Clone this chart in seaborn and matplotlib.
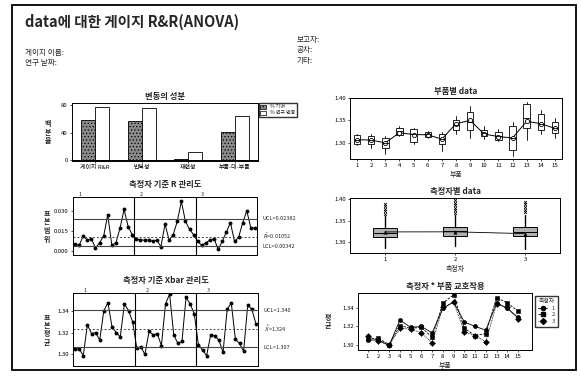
import numpy as np
import pandas as pd
import matplotlib
matplotlib.use("Agg")
import matplotlib.pyplot as plt
import matplotlib.transforms as mtransforms
import seaborn as sns
from matplotlib.patches import Patch, Rectangle
from matplotlib.lines import Line2D

# DATA

# components of variation
components = ['게이지 R&R', '반복성', '재현성', '부품-대-부품']
pct_contrib = [59, 57, 1.5, 41]
pct_study = [77, 76, 12, 64]

parts = list(range(1, 16))
operators = ['1', '2', '3']

# operator x part means (Xbar chart and interaction plot)
xbar_op1 = [1.305, 1.305, 1.299, 1.327, 1.319, 1.320, 1.313, 1.340, 1.347, 1.325, 1.320, 1.316, 1.346, 1.340, 1.330]
xbar_op2 = [1.306, 1.307, 1.300, 1.321, 1.318, 1.319, 1.308, 1.346, 1.355, 1.318, 1.310, 1.312, 1.352, 1.346, 1.337]
xbar_op3 = [1.309, 1.304, 1.299, 1.318, 1.317, 1.313, 1.302, 1.341, 1.347, 1.314, 1.310, 1.303, 1.345, 1.341, 1.328]

# operator x part ranges (R chart)
range_op1 = [0.005, 0.004, 0.011, 0.008, 0.009, 0.002, 0.006, 0.011, 0.027, 0.004, 0.006, 0.017, 0.031, 0.018, 0.012]
range_op2 = [0.009, 0.008, 0.008, 0.008, 0.007, 0.008, 0.003, 0.020, 0.008, 0.012, 0.022, 0.037, 0.022, 0.016, 0.012]
range_op3 = [0.007, 0.004, 0.006, 0.008, 0.009, 0.001, 0.007, 0.014, 0.021, 0.007, 0.010, 0.021, 0.030, 0.017, 0.017]

xbar_ucl, xbar_center, xbar_lcl = 1.3402, 1.3235, 1.3068
r_ucl, r_center, r_lcl = 0.02382, 0.01052, 0.00342

# box summaries by part
part_q1 = [1.296, 1.297, 1.288, 1.318, 1.302, 1.312, 1.297, 1.329, 1.329, 1.315, 1.306, 1.284, 1.333, 1.329, 1.322]
part_med = [1.306, 1.306, 1.300, 1.325, 1.320, 1.320, 1.309, 1.339, 1.346, 1.321, 1.315, 1.311, 1.355, 1.342, 1.333]
part_q3 = [1.317, 1.315, 1.311, 1.333, 1.330, 1.324, 1.320, 1.351, 1.369, 1.329, 1.324, 1.338, 1.387, 1.364, 1.346]
part_wlo = [1.294, 1.288, 1.275, 1.315, 1.297, 1.311, 1.280, 1.320, 1.311, 1.308, 1.304, 1.270, 1.306, 1.320, 1.311]
part_whi = [1.320, 1.320, 1.315, 1.338, 1.333, 1.327, 1.324, 1.360, 1.382, 1.338, 1.330, 1.346, 1.391, 1.373, 1.355]

# box summaries by operator
op_q1 = [1.3105, 1.314, 1.313]
op_med = [1.322, 1.326, 1.324]
op_q3 = [1.332, 1.334, 1.334]
op_wlo = [1.2865, 1.290, 1.2825]
op_whi = [1.360, 1.363, 1.362]
op_fliers = [[1.366, 1.372, 1.378, 1.384, 1.390],
             [1.368, 1.374, 1.380, 1.386, 1.392, 1.398],
             [1.370, 1.376, 1.382, 1.388, 1.394]]


# STYLE

sns.set_theme(style="ticks")
plt.rcParams['font.family'] = ['Noto Sans CJK KR', 'DejaVu Sans']
plt.rcParams['axes.unicode_minus'] = False
plt.rcParams['axes.linewidth'] = 0.7
plt.rcParams['axes.edgecolor'] = 'black'
plt.rcParams['xtick.major.size'] = 1.5
plt.rcParams['ytick.major.size'] = 1.5
plt.rcParams['xtick.major.width'] = 0.5
plt.rcParams['ytick.major.width'] = 0.5
plt.rcParams['xtick.major.pad'] = 1.5
plt.rcParams['ytick.major.pad'] = 1.5
plt.rcParams['hatch.linewidth'] = 0.5
plt.rcParams['hatch.color'] = 'black'

TICK = 4.3
TITLE = 6
LABEL = 5

fig = plt.figure(figsize=(5.81, 3.79), dpi=100)
W, H = 581, 379


def px_axes(x0, y0, x1, y1):
    return fig.add_axes([x0 / W, 1 - y1 / H, (x1 - x0) / W, (y1 - y0) / H])


def style_axes(ax):
    for s in ax.spines.values():
        s.set_visible(True)
        s.set_color('black')
        s.set_linewidth(0.7)
    ax.tick_params(labelsize=TICK, colors='black')


def stacked_ylabel(ax, text, x_px):
    # upright characters stacked one above the other, as in the report
    ax.set_ylabel('')
    bbox = ax.get_position()
    fig.text(x_px / W, bbox.y0 + bbox.height / 2, '\n'.join(text), fontsize=LABEL,
             fontweight='bold', ha='center', va='center', linespacing=1.3)


# outer frame and header texts
fig.patches.append(Rectangle((12 / W, 1 - 370 / H), 564 / W, 365 / H, transform=fig.transFigure,
                             fill=False, lw=1.3, ec='black'))
fig.text(25 / W, 1 - 22 / H, 'data에 대한 게이지 R&R(ANOVA)', fontsize=10.5, fontweight='bold', va='center')
fig.text(25 / W, 1 - 53 / H, '게이지 이름:', fontsize=5.5, va='center')
fig.text(25 / W, 1 - 63 / H, '연구 날짜:', fontsize=5.5, va='center')
fig.text(297 / W, 1 - 40 / H, '보고자:', fontsize=5.5, va='center')
fig.text(297 / W, 1 - 50 / H, '공차:', fontsize=5.5, va='center')
fig.text(297 / W, 1 - 61 / H, '기타:', fontsize=5.5, va='center')


# CHART 1: COMPONENTS OF VARIATION
ax1 = px_axes(72, 103, 258, 161)
df_bar = pd.DataFrame({
    '성분': components * 2,
    '값': pct_contrib + pct_study,
    '구분': ['% 기여'] * 4 + ['% 연구 변동'] * 4,
})
sns.barplot(data=df_bar, x='성분', y='값', hue='구분', ax=ax1, width=0.6,
            palette=['#8a8a8a', 'white'], edgecolor='black', linewidth=0.6, legend=False)
for bar in ax1.containers[0]:
    bar.set_hatch('.....')
ax1.axhline(0, color='black', lw=0.7)
ax1.set_ylim(-1, 83)
ax1.set_yticks([0, 40, 80])
ax1.set_xlabel('')
ax1.set_title('변동의 성분', fontsize=TITLE, fontweight='bold', pad=3)
style_axes(ax1)
stacked_ylabel(ax1, '백분율', 48)
handles = [Patch(facecolor='#8a8a8a', edgecolor='black', hatch='.....', lw=0.5, label='% 기여'),
           Patch(facecolor='white', edgecolor='black', lw=0.5, label='% 연구 변동')]
ax1.legend(handles=handles, loc='upper left', bbox_to_anchor=(1.005, 1.0), fontsize=3.6,
           frameon=True, fancybox=False, edgecolor='black', borderpad=0.3,
           handlelength=1.2, handleheight=0.9, labelspacing=0.2, borderaxespad=0)


# helper for the two control charts
def control_chart(ax, values, ucl, center, lcl, labels, ylim, yticks, label_x, title, ylabel):
    df = pd.DataFrame({'idx': np.arange(len(values)), 'v': values})
    sns.lineplot(data=df, x='idx', y='v', ax=ax, color='black', lw=0.7,
                 marker='o', markersize=2.8, markeredgewidth=0)
    ax.axhline(ucl, color='#444444', lw=0.8)
    ax.axhline(center, color='#444444', lw=0.7, ls=(0, (2, 2)))
    ax.axhline(lcl, color='#444444', lw=0.8)
    for b in [14.5, 29.5]:
        ax.axvline(b, color='black', lw=0.8)
    for k, op in enumerate(operators):
        ax.text(15 * k + label_x, ylim[1], op, fontsize=4, ha='center', va='bottom')
    ax.set_xlim(-0.5, 44.5)
    ax.set_ylim(*ylim)
    ax.set_yticks(yticks)
    ax.set_xticks([])
    ax.set_xlabel('')
    ax.set_title(title, fontsize=TITLE, fontweight='bold', pad=7)
    style_axes(ax)
    stacked_ylabel(ax, ylabel, 47)
    tr = mtransforms.blended_transform_factory(ax.transAxes, ax.transData)
    for txt, yv in zip(labels, [ucl, center, lcl]):
        ax.text(1.03, yv, txt, transform=tr, fontsize=4, va='center', ha='left')


# CHART 2: R CHART
ax2 = px_axes(73, 197, 257, 255)
control_chart(ax2, range_op1 + range_op2 + range_op3, r_ucl, r_center, r_lcl,
              ['UCL=0.02382', r'$\bar{R}$=0.01052', 'LCL=0.00342'],
              (-0.0032, 0.0403), [0.0, 0.015, 0.030], 1.2,
              '측정자 기준 R 관리도', '표본범위')
ax2.yaxis.set_major_formatter(matplotlib.ticker.FormatStrFormatter('%.3f'))

# CHART 3: XBAR CHART
ax3 = px_axes(73, 293, 258, 366)
control_chart(ax3, xbar_op1 + xbar_op2 + xbar_op3, xbar_ucl, xbar_center, xbar_lcl,
              ['UCL=1.340', r'$\bar{\bar{X}}$=1.324', 'LCL=1.307'],
              (1.2895, 1.356), [1.30, 1.32, 1.34], 2.5,
              '측정자 기준 Xbar 관리도', '표본평균')
ax3.yaxis.set_major_formatter(matplotlib.ticker.FormatStrFormatter('%.2f'))


# CHART 4: DATA BY PART
ax4 = px_axes(350, 98, 562, 159)
part_stats = [dict(q1=a, med=b, q3=c, whislo=d, whishi=e, fliers=[])
              for a, b, c, d, e in zip(part_q1, part_med, part_q3, part_wlo, part_whi)]
ax4.bxp(part_stats, positions=parts, widths=0.45, patch_artist=True, showcaps=False,
        boxprops=dict(facecolor='white', edgecolor='black', lw=0.6),
        medianprops=dict(color='black', lw=0.6), whiskerprops=dict(color='black', lw=0.6))
part_means = np.mean([xbar_op1, xbar_op2, xbar_op3], axis=0)
sns.lineplot(x=parts, y=part_means, ax=ax4, color='black', lw=0.7, marker='o', markersize=3,
             markerfacecolor='white', markeredgecolor='black', markeredgewidth=0.6)
ax4.set_xlim(0.5, 15.5)
ax4.set_ylim(1.263, 1.398)
ax4.set_yticks([1.30, 1.35, 1.40])
ax4.yaxis.set_major_formatter(matplotlib.ticker.FormatStrFormatter('%.2f'))
ax4.set_xticks(parts)
ax4.set_xticklabels([str(p) for p in parts])
ax4.set_xlabel('부품', fontsize=LABEL, labelpad=2)
ax4.set_title('부품별 data', fontsize=TITLE, fontweight='bold', pad=3)
style_axes(ax4)


# CHART 5: DATA BY OPERATOR
ax5 = px_axes(350, 198, 560, 253)
op_stats = [dict(q1=a, med=b, q3=c, whislo=d, whishi=e, fliers=f)
            for a, b, c, d, e, f in zip(op_q1, op_med, op_q3, op_wlo, op_whi, op_fliers)]
ax5.bxp(op_stats, positions=[1, 2, 3], widths=0.35, patch_artist=True, showcaps=False,
        boxprops=dict(facecolor='#b0b0b0', edgecolor='black', lw=0.7),
        medianprops=dict(color='black', lw=0.7), whiskerprops=dict(color='black', lw=1.0),
        flierprops=dict(marker='x', markersize=2, markeredgecolor='black', markeredgewidth=0.6))
op_means = [np.mean(xbar_op1), np.mean(xbar_op2), np.mean(xbar_op3)]
sns.lineplot(x=[1, 2, 3], y=op_means, ax=ax5, color='black', lw=0.6, marker='^', markersize=3,
             markeredgewidth=0)
ax5.set_xlim(0.5, 3.5)
ax5.set_ylim(1.274, 1.403)
ax5.set_yticks([1.30, 1.35, 1.40])
ax5.yaxis.set_major_formatter(matplotlib.ticker.FormatStrFormatter('%.2f'))
ax5.set_xticks([1, 2, 3])
ax5.set_xticklabels(operators)
ax5.set_xlabel('측정자', fontsize=LABEL, labelpad=2)
ax5.set_title('측정자별 data', fontsize=TITLE, fontweight='bold', pad=3)
style_axes(ax5)


# CHART 6: OPERATOR * PART INTERACTION
ax6 = px_axes(358, 293, 532, 350)
df_int = pd.DataFrame({
    '부품': parts * 3,
    '평균': xbar_op1 + xbar_op2 + xbar_op3,
    '측정자': [op for op in operators for _ in parts],
})
sns.lineplot(data=df_int, x='부품', y='평균', hue='측정자', style='측정자', ax=ax6,
             palette=['black', 'black', 'black'], markers=['o', 's', 'D'],
             dashes=[(None, None), (3, 1.5), (1, 1)], lw=0.6, markersize=3, markeredgewidth=0.4,
             markeredgecolor='black', legend=False)
ax6.set_xlim(0.1, 16.3)
ax6.set_ylim(1.294, 1.357)
ax6.set_yticks([1.30, 1.32, 1.34])
ax6.yaxis.set_major_formatter(matplotlib.ticker.FormatStrFormatter('%.2f'))
ax6.set_xticks(parts)
ax6.set_xticklabels([str(p) for p in parts])
ax6.set_xlabel('부품', fontsize=LABEL, labelpad=2)
ax6.set_title('측정자 * 부품 교호작용', fontsize=TITLE, fontweight='bold', pad=3)
style_axes(ax6)
stacked_ylabel(ax6, '평균', 328)
leg_handles = [Line2D([], [], color='black', lw=0.6, ls=ls, marker=m, markersize=3, label=op)
               for op, m, ls in zip(operators, ['o', 's', 'D'], ['-', '--', ':'])]
ax6.legend(handles=leg_handles, title='측정자', loc='upper left', bbox_to_anchor=(1.02, 0.95),
           fontsize=4.2, title_fontsize=4.2, frameon=True, fancybox=False, edgecolor='black',
           borderpad=0.5, handlelength=1.5, labelspacing=0.3, borderaxespad=0)

plt.savefig('out.png', dpi=100)
